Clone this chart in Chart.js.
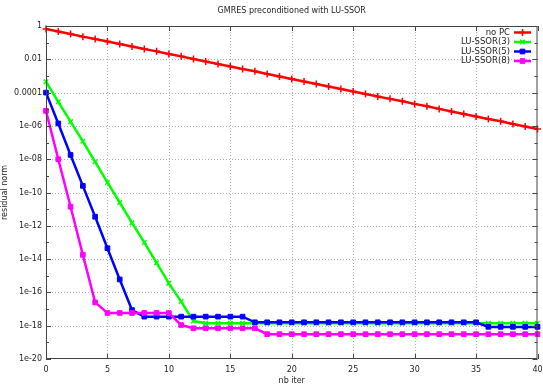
<!DOCTYPE html>
<html>
<head>
<meta charset="utf-8">
<script src="https://cdn.jsdelivr.net/npm/chart.js@4"></script>
<style>
  html, body { margin: 0; padding: 0; background: #fff; }
  #wrap { width: 543px; height: 388px; }
</style>
</head>
<body>
<div id="wrap"><canvas id="chart" width="543" height="388"></canvas></div>
<script>
"use strict";

const iters = [];
for (let i = 0; i <= 40; i++) iters.push(i);

const noPC = [
  0.66, 0.47, 0.33, 0.23, 0.166, 0.117, 0.083, 0.059, 0.042, 0.030,
  0.021, 0.015, 0.0105, 0.0074, 0.0052, 0.0037, 0.0026, 0.0019, 0.0013, 9.3e-4,
  6.6e-4, 4.7e-4, 3.3e-4, 2.3e-4, 1.66e-4, 1.17e-4, 8.3e-5, 5.9e-5, 4.2e-5, 3.0e-5,
  2.1e-5, 1.5e-5, 1.05e-5, 7.4e-6, 5.2e-6, 3.7e-6, 2.6e-6, 1.9e-6, 1.3e-6, 9.3e-7,
  6.6e-7
];

const ssor3 = [
  4.5e-4, 2.8e-5, 1.8e-6, 1.2e-7, 7e-9, 4e-10, 2.5e-11, 1.5e-12, 1e-13, 6e-15,
  3.5e-16, 2.8e-17, 1.9e-18, 1.4e-18, 1.4e-18, 1.4e-18, 1.4e-18, 1.4e-18, 1.4e-18, 1.4e-18,
  1.4e-18, 1.4e-18, 1.4e-18, 1.4e-18, 1.4e-18, 1.4e-18, 1.4e-18, 1.4e-18, 1.4e-18, 1.4e-18,
  1.4e-18, 1.4e-18, 1.4e-18, 1.4e-18, 1.4e-18, 1.4e-18, 1.4e-18, 1.4e-18, 1.4e-18, 1.4e-18,
  1.4e-18
];

const ssor5 = [
  1.0e-4, 1.4e-6, 1.8e-8, 2.5e-10, 3.5e-12, 4.5e-14, 6e-16, 8.7e-18, 3.5e-18, 3.5e-18,
  3.5e-18, 3.5e-18, 3.5e-18, 3.5e-18, 3.5e-18, 3.5e-18, 3.5e-18, 1.6e-18, 1.6e-18, 1.6e-18,
  1.6e-18, 1.6e-18, 1.6e-18, 1.6e-18, 1.6e-18, 1.6e-18, 1.6e-18, 1.6e-18, 1.6e-18, 1.6e-18,
  1.6e-18, 1.6e-18, 1.6e-18, 1.6e-18, 1.6e-18, 1.6e-18, 8.5e-19, 8.5e-19, 8.5e-19, 8.5e-19,
  8.5e-19
];

const ssor8 = [
  8e-6, 1e-8, 1.4e-11, 1.8e-14, 2.5e-17, 5.8e-18, 5.8e-18, 5.8e-18, 5.8e-18, 5.8e-18,
  5.8e-18, 1.1e-18, 7e-19, 7e-19, 7e-19, 7e-19, 7e-19, 7e-19, 3.1e-19, 3.1e-19,
  3.1e-19, 3.1e-19, 3.1e-19, 3.1e-19, 3.1e-19, 3.1e-19, 3.1e-19, 3.1e-19, 3.1e-19, 3.1e-19,
  3.1e-19, 3.1e-19, 3.1e-19, 3.1e-19, 3.1e-19, 3.1e-19, 3.1e-19, 3.1e-19, 3.1e-19, 3.1e-19,
  3.1e-19
];

const seriesNames = ["no PC", "LU-SSOR(3)", "LU-SSOR(5)", "LU-SSOR(8)"];
const seriesColors = ["#ff0000", "#00ff00", "#0000ff", "#ff00ff"];
const seriesPoints = ["cross", "crossRot", "rect", "rect"];

const yTickValues = [1e-20, 1e-18, 1e-16, 1e-14, 1e-12, 1e-10, 1e-8, 1e-6, 1e-4, 1e-2, 1];
const yTickLabels = ["1e-20", "1e-18", "1e-16", "1e-14", "1e-12", "1e-10", "1e-08", "1e-06", "0.0001", "0.01", "1"];
const xTickValues = [0, 5, 10, 15, 20, 25, 30, 35, 40];

const FONT = "'DejaVu Sans', sans-serif";
const TEXT = "#222";
const GRID = "#b0b0b0";

const toPts = (arr) => arr.map((v, i) => ({ x: iters[i], y: v }));

const makeSet = (k, arr, radius, border, order) => ({
  label: seriesNames[k],
  data: toPts(arr),
  borderColor: seriesColors[k],
  backgroundColor: seriesColors[k],
  borderWidth: 2.5,
  pointStyle: seriesPoints[k],
  pointRadius: radius,
  pointBorderWidth: border,
  pointBorderColor: seriesColors[k],
  pointBackgroundColor: seriesColors[k],
  tension: 0,
  fill: false,
  clip: false,
  order: order,
});

// dotted grid, frame and inward ticks, like gnuplot
const framePlugin = {
  id: "frame",
  beforeDatasetsDraw(chart) {
    const { ctx, chartArea: a, scales } = chart;
    ctx.save();
    ctx.strokeStyle = GRID;
    ctx.lineWidth = 1;
    ctx.setLineDash([1, 2]);
    ctx.beginPath();
    yTickValues.slice(1, -1).forEach((v) => {
      const y = Math.round(scales.y.getPixelForValue(v)) + 0.5;
      ctx.moveTo(a.left, y); ctx.lineTo(a.right, y);
    });
    xTickValues.slice(1, -1).forEach((v) => {
      const x = Math.round(scales.x.getPixelForValue(v)) + 0.5;
      ctx.moveTo(x, a.top); ctx.lineTo(x, a.bottom);
    });
    ctx.stroke();
    ctx.restore();
  },
  afterDatasetsDraw(chart) {
    const { ctx, chartArea: a, scales } = chart;
    ctx.save();
    ctx.strokeStyle = "#444";
    ctx.lineWidth = 1;
    ctx.strokeRect(a.left + 0.5, a.top + 0.5, a.right - a.left - 1, a.bottom - a.top - 1);
    ctx.beginPath();
    for (let e = -20; e <= 0; e++) {
      const y = Math.round(scales.y.getPixelForValue(Math.pow(10, e))) + 0.5;
      const len = e % 2 === 0 ? 5 : 3;
      ctx.moveTo(a.left, y); ctx.lineTo(a.left + len, y);
      ctx.moveTo(a.right, y); ctx.lineTo(a.right - len, y);
    }
    xTickValues.forEach((v) => {
      const x = Math.round(scales.x.getPixelForValue(v)) + 0.5;
      ctx.moveTo(x, a.bottom); ctx.lineTo(x, a.bottom - 5);
      ctx.moveTo(x, a.top); ctx.lineTo(x, a.top + 5);
    });
    ctx.stroke();
    ctx.restore();
  },
};

// title over the plot area and key in the upper right corner
const keyPlugin = {
  id: "key",
  afterDraw(chart) {
    const { ctx, chartArea: a } = chart;
    ctx.save();
    ctx.font = "8px " + FONT;
    ctx.fillStyle = TEXT;
    ctx.textAlign = "center";
    ctx.textBaseline = "middle";
    ctx.fillText("GMRES preconditioned with LU-SSOR", (a.left + a.right) / 2, 11);

    const rows = [32.5, 42, 51.5, 61];
    ctx.font = "8.5px " + FONT;
    ctx.textAlign = "right";
    chart.data.datasets.forEach((ds, k) => {
      const y = rows[k];
      ctx.fillStyle = TEXT;
      ctx.fillText(ds.label, 510, y);
      ctx.strokeStyle = ds.borderColor;
      ctx.fillStyle = ds.borderColor;
      ctx.lineWidth = 2.5;
      ctx.beginPath();
      ctx.moveTo(514, y); ctx.lineTo(531, y);
      ctx.stroke();
      ctx.lineWidth = ds.pointBorderWidth;
      Chart.helpers.drawPoint(ctx, {
        pointStyle: ds.pointStyle, radius: ds.pointRadius, borderWidth: ds.pointBorderWidth, rotation: 0,
      }, 522.5, y);
    });
    ctx.restore();
  },
};

new Chart(document.getElementById("chart").getContext("2d"), {
  type: "line",
  data: {
    datasets: [
      makeSet(0, noPC, 3.5, 1.5, 3),
      makeSet(1, ssor3, 3.2, 1.5, 2),
      makeSet(2, ssor5, 3.3, 1, 1),
      makeSet(3, ssor8, 3.3, 1, 0),
    ],
  },
  options: {
    responsive: false,
    animation: false,
    layout: { padding: { left: 0, right: 3, top: 26, bottom: 0 } },
    plugins: {
      legend: { display: false },
      tooltip: { enabled: false },
      title: { display: false },
    },
    scales: {
      x: {
        type: "linear",
        min: 0,
        max: 40,
        afterBuildTicks: (s) => { s.ticks = xTickValues.map((v) => ({ value: v })); },
        afterFit: (s) => { s.height = 29; s.paddingRight = 0; s.paddingLeft = 0; },
        ticks: {
          color: TEXT,
          font: { family: FONT, size: 8 },
          padding: 6,
          maxRotation: 0,
        },
        grid: { display: false, drawTicks: false },
        border: { display: false },
        title: {
          display: true,
          text: "nb iter",
          color: TEXT,
          font: { family: FONT, size: 8 },
          padding: { top: 0, bottom: 2 },
        },
      },
      y: {
        type: "logarithmic",
        min: 1e-20,
        max: 1,
        afterBuildTicks: (s) => { s.ticks = yTickValues.map((v) => ({ value: v })); },
        afterFit: (s) => { s.width = 46; s.paddingTop = 0; s.paddingBottom = 0; },
        ticks: {
          color: TEXT,
          font: { family: FONT, size: 8 },
          padding: 4,
          autoSkip: false,
          callback: (v) => {
            const idx = yTickValues.findIndex((t) => Math.abs(Math.log10(t) - Math.log10(v)) < 1e-6);
            return idx >= 0 ? yTickLabels[idx] : "";
          },
        },
        grid: { display: false, drawTicks: false },
        border: { display: false },
        title: {
          display: true,
          text: "residual norm",
          color: TEXT,
          font: { family: FONT, size: 8 },
          padding: { top: 0, bottom: 0 },
        },
      },
    },
  },
  plugins: [framePlugin, keyPlugin],
});
</script>
</body>
</html>
